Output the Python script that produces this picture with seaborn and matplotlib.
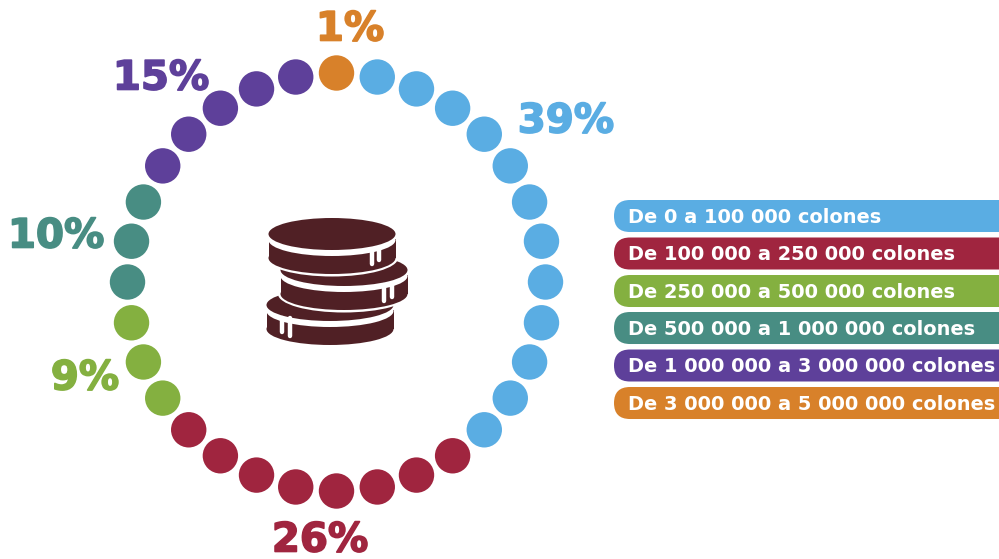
import numpy as np
import pandas as pd
import seaborn as sns
import matplotlib.pyplot as plt
import matplotlib.patheffects as pe
from matplotlib.patches import Ellipse, Rectangle, FancyBboxPatch

# data
categories = ['De 0 a 100 000 colones', 'De 100 000 a 250 000 colones',
              'De 250 000 a 500 000 colones', 'De 500 000 a 1 000 000 colones',
              'De 1 000 000 a 3 000 000 colones', 'De 3 000 000 a 5 000 000 colones']
percents = [39, 26, 9, 10, 15, 1]
dot_counts = [12, 8, 3, 3, 5, 1]
colors = ['#5AADE3', '#A0253F', '#84B040', '#488D83', '#5E409A', '#D8812A']
label_pos = [(566, 117), (320, 536), (85, 374), (56, 232), (161, 74), (350, 25)]

COIN = '#502025'

# one row per dot, going clockwise, the orange one sits on top
rows = []
order = [5, 0, 1, 2, 3, 4]
for k in order:
    rows += [categories[k]] * dot_counts[k]
df = pd.DataFrame({'categoria': rows})
angle = np.arange(len(df)) * 2 * np.pi / len(df)
df['x'] = 336.5 + 209 * np.sin(angle)
df['y'] = 282 - 209 * np.cos(angle)

fig = plt.figure(figsize=(9.99, 5.59), dpi=100)
ax = fig.add_axes([0, 0, 1, 1])

sns.scatterplot(data=df, x='x', y='y', hue='categoria', hue_order=categories,
                palette=colors, s=650, linewidth=0, legend=False, ax=ax, zorder=3)

ax.set_xlim(0, 999)
ax.set_ylim(559, 0)
ax.axis('off')

# percent labels
for p, c, (lx, ly) in zip(percents, colors, label_pos):
    ax.text(lx, ly, f'{p}%', color=c, fontsize=29, fontweight='bold',
            family='DejaVu Sans', ha='center', va='center_baseline',
            path_effects=[pe.withStroke(linewidth=1.2, foreground=c)])

# legend pills, cut by the right edge
pill_top = [200, 237.5, 275, 312, 349.5, 387]
for cat, c, top in zip(categories, colors, pill_top):
    ax.add_patch(FancyBboxPatch((630, top + 16), 400, 0.01,
                                boxstyle='round,pad=16,rounding_size=16',
                                fc=c, ec='none', clip_on=True))
    ax.text(628, top + 15.5, cat, color='white', fontsize=13.95, fontweight='bold',
            family='DejaVu Sans', ha='left', va='center_baseline')


def coin(cx, cy, drips, rx=63.5, ry=16, h=24, z=5):
    # white halo so the coins stay apart, then body, band and top
    ax.add_patch(Ellipse((cx, cy + h), 2 * rx + 5, 2 * ry + 5, fc='white', ec='none', zorder=z))
    ax.add_patch(Ellipse((cx, cy), 2 * rx + 5, 2 * ry + 5, fc='white', ec='none', zorder=z))
    ax.add_patch(Rectangle((cx - rx - 2.5, cy), 2 * rx + 5, h, fc='white', ec='none', zorder=z))
    ax.add_patch(Ellipse((cx, cy + h), 2 * rx, 2 * ry, fc=COIN, ec='none', zorder=z + 0.1))
    ax.add_patch(Rectangle((cx - rx, cy + 5), 2 * rx, h - 5, fc=COIN, ec='none', zorder=z + 0.1))
    ax.add_patch(Ellipse((cx, cy + 6), 2 * rx, 2 * ry, fc='white', ec='none', zorder=z + 0.2))
    ax.add_patch(Ellipse((cx, cy), 2 * rx, 2 * ry, fc=COIN, ec='none', zorder=z + 0.3))
    for dx, y0, y1 in drips:
        ax.plot([dx, dx], [y0, y1], color='white', lw=3.2, solid_capstyle='round', zorder=z + 0.4)


coin(330, 305, [(282, 318, 332), (290, 318, 336)], z=5)
coin(344, 270, [(384, 285, 301), (392, 285, 297)], z=6)
coin(332, 234, [(372, 250, 264), (379, 250, 260)], z=7)

plt.savefig('out.png', dpi=100)
